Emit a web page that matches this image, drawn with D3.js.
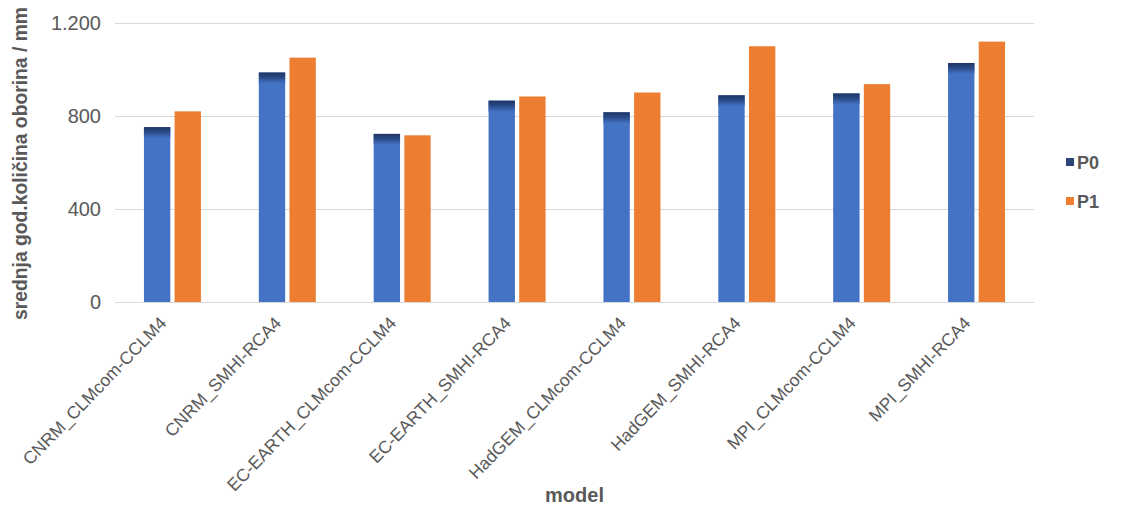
<!DOCTYPE html>
<html>
<head>
<meta charset="utf-8">
<script src="https://cdn.jsdelivr.net/npm/d3@7"></script>
<style>
  html, body { margin: 0; padding: 0; background: #fff; }
  svg { display: block; font-family: "Liberation Sans", Arial, sans-serif; }
</style>
</head>
<body>
<svg id="chart" width="1124" height="508"></svg>
<script>
const categories = [
  "CNRM_CLMcom-CCLM4", "CNRM_SMHI-RCA4", "EC-EARTH_CLMcom-CCLM4", "EC-EARTH_SMHI-RCA4",
  "HadGEM_CLMcom-CCLM4", "HadGEM_SMHI-RCA4", "MPI_CLMcom-CCLM4", "MPI_SMHI-RCA4"
];
const seriesNames = ["P0", "P1"];
const p0 = [752, 987, 723, 866, 816, 889, 897, 1028];
const p1 = [820, 1051, 717, 884, 901, 1100, 937, 1120];
const yTicks = [0, 400, 800, 1200];
const yTickLabels = ["0", "400", "800", "1.200"];
const yTitle = "srednja god.količina oborina / mm";
const xTitle = "model";

const colors = { P0: "#4472c4", P1: "#ed7d31" };
const textColor = "#595959";

const svg = d3.select("#chart");
const plotLeft = 115, plotRight = 1034, plotTop = 23, plotBottom = 302;

const x = d3.scaleBand().domain(categories).range([plotLeft, plotRight]).paddingInner(0).paddingOuter(0);
const y = d3.scaleLinear().domain([0, 1200]).range([plotBottom, plotTop]);
const xs = d3.scaleBand().domain(seriesNames).range([0, 57]).paddingInner(0.14);

const defs = svg.append("defs");
const g1 = defs.append("linearGradient").attr("id", "topShade").attr("x1", 0).attr("y1", 0).attr("x2", 0).attr("y2", 1);
g1.append("stop").attr("offset", "0%").attr("stop-color", "#1f3563");
g1.append("stop").attr("offset", "45%").attr("stop-color", "#2a4a86");
g1.append("stop").attr("offset", "100%").attr("stop-color", "#4472c4");

// grid lines
const yAxis = d3.axisLeft(y).tickValues(yTicks).tickSize(-(plotRight - plotLeft)).tickFormat((d, i) => yTickLabels[i]);
const ga = svg.append("g").attr("transform", `translate(${plotLeft},0)`).call(yAxis);
ga.select(".domain").remove();
ga.selectAll(".tick line").attr("stroke", "#d9d9d9").attr("stroke-width", 1);
ga.selectAll(".tick text").attr("fill", textColor).attr("font-size", 20).attr("x", -14)
  .attr("font-family", "Liberation Sans, Arial, sans-serif");

// bars
const data = categories.map((c, i) => ({ c, P0: p0[i], P1: p1[i] }));
const groups = svg.append("g").selectAll("g").data(data).join("g")
  .attr("transform", d => `translate(${x(d.c) + x.bandwidth() / 2 - 28.5},0)`);

groups.selectAll("rect.bar").data(d => seriesNames.map(s => ({ s, v: d[s] }))).join("rect")
  .attr("class", "bar")
  .attr("x", d => xs(d.s)).attr("width", xs.bandwidth())
  .attr("y", d => y(d.v)).attr("height", d => y(0) - y(d.v))
  .attr("fill", d => colors[d.s]);

groups.selectAll("rect.shade").data(d => [{ v: d.P0 }]).join("rect")
  .attr("class", "shade")
  .attr("x", xs("P0")).attr("width", xs.bandwidth())
  .attr("y", d => y(d.v)).attr("height", 11)
  .attr("fill", "url(#topShade)");

// x axis line
const xAxis = d3.axisBottom(x).tickSize(0).tickPadding(0);
const gx = svg.append("g").attr("transform", `translate(0,${plotBottom})`).call(xAxis);
gx.select(".domain").attr("stroke", "#d9d9d9").attr("stroke-width", 1.2);
gx.selectAll(".tick text")
  .attr("fill", textColor).attr("font-size", 17.5)
  .attr("font-family", "Liberation Sans, Arial, sans-serif")
  .attr("text-anchor", "end")
  .attr("dy", 0).attr("y", 0)
  .attr("transform", "translate(-5,22) rotate(-46)");

// axis titles
svg.append("text").attr("transform", `translate(27,${(5 + 322) / 2}) rotate(-90)`)
  .attr("text-anchor", "middle").attr("font-weight", "bold").attr("font-size", 19.3)
  .attr("fill", textColor).text(yTitle);
svg.append("text").attr("x", (plotLeft + plotRight) / 2).attr("y", 502)
  .attr("text-anchor", "middle").attr("font-weight", "bold").attr("font-size", 20)
  .attr("fill", textColor).text(xTitle);

// legend
const legend = svg.append("g").selectAll("g").data(seriesNames).join("g")
  .attr("transform", (d, i) => `translate(1066,${162 + i * 39})`);
legend.append("rect").attr("x", 0).attr("y", -4).attr("width", 8).attr("height", 8)
  .attr("fill", d => d === "P0" ? "#2d4677" : colors.P1);
legend.append("text").attr("x", 11).attr("y", 7).attr("font-size", 18).attr("font-weight", "bold")
  .attr("fill", textColor).text(d => d);
</script>
</body>
</html>
